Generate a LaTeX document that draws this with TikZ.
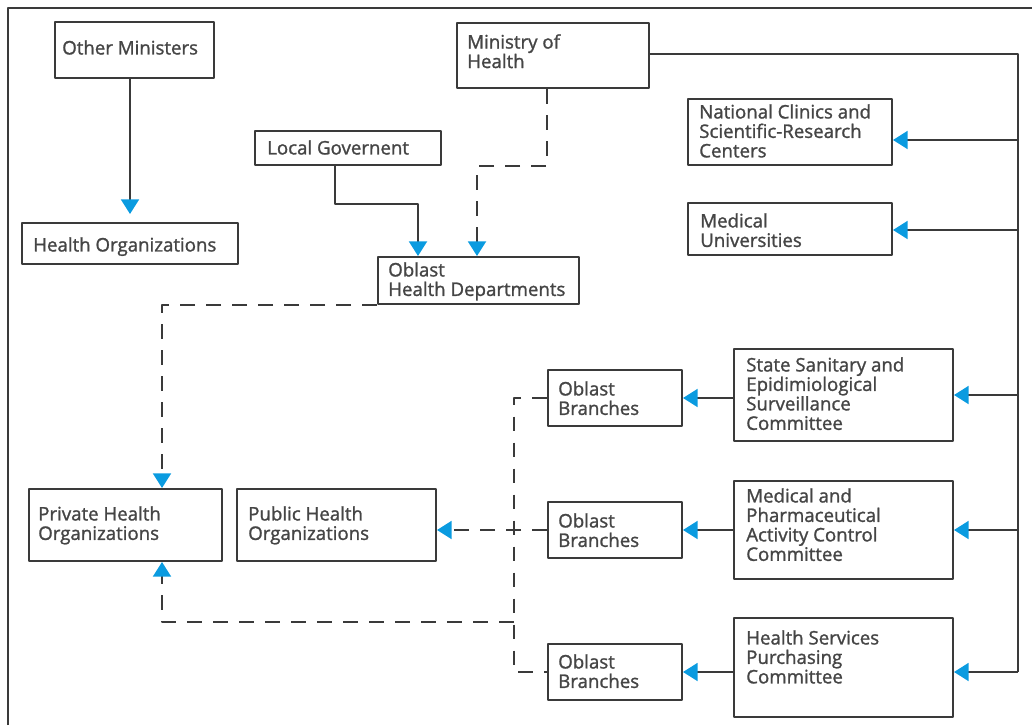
\documentclass[tikz,border=0pt]{standalone}
\usepackage{fontspec}
\setmainfont{Open Sans}[UprightFeatures={FakeBold=1.3}]
\usetikzlibrary{arrows.meta,calc,fit}
\definecolor{linegray}{HTML}{3A3A3A}
\definecolor{textgray}{HTML}{454545}
\definecolor{tipblue}{HTML}{0A9BE0}
\tikzset{
	orgbox/.style={draw=linegray, line width=1.5pt, inner sep=0pt},
	orgtext/.style={anchor=north west, align=left, inner sep=0pt, text=textgray, font=\fontsize{14}{14.6}\selectfont},
	link/.style={draw=linegray, line width=1.5pt},
	dlink/.style={link, dash pattern=on 11pt off 8.5pt},
	tip/.style={-{Triangle[length=11pt,width=13.5pt,color=tipblue]}}
}
% name, corner, corner, text baseline start, text
\newcommand\orgunit[5]{%
	\node[orgbox, fit={(#2) (#3)}] (#1) {};
	\node[orgtext] (#1-txt) at ($(#4)+(0,-14)$) {#5};}
\begin{document}
\begin{tikzpicture}[x=0.75pt,y=-0.75pt,line join=round]
	\useasboundingbox (0,0) rectangle (1032,725);
	\draw[link] (8,725) -- (8,8) -- (1032,8);
	\orgunit{om}{55,22}{214,78}{62,54}{Other Ministers}
	\orgunit{ho}{22,223}{238,264}{33,251}{Health Organizations}
	\orgunit{lg}{255,131}{441,165}{267,154}{Local Governent}
	\orgunit{moh}{457,23}{649,88}{467,48}{Ministry of\\Health}
	\orgunit{ohd}{378,257}{579,304}{388,276}{Oblast\\Health Departments}
	\orgunit{ncl}{688,99}{892,165}{699,118}{National Clinics and\\Scientific-Research\\Centers}
	\orgunit{mu}{688,203}{892,255}{700,227}{Medical\\Universities}
	\orgunit{ss}{734,349}{953,441}{746,371}{State Sanitary and\\Epidimiological\\Surveillance\\Committee}
	\orgunit{mp}{734,481}{953,579}{746,502}{Medical and\\Pharmaceutical\\Activity Control\\Committee}
	\orgunit{hs}{734,618}{953,717}{746,644}{Health Services\\Purchasing\\Committee}
	\orgunit{ob1}{548,370}{682,426}{558,395}{Oblast\\Branches}
	\orgunit{ob2}{548,502}{682,558}{558,527}{Oblast\\Branches}
	\orgunit{ob3}{548,644}{682,700}{558,668}{Oblast\\Branches}
	\orgunit{prv}{29,489}{222,561}{38,520}{Private Health\\Organizations}
	\orgunit{pub}{237,489}{436,561}{248,520}{Public Health\\Organizations}
	\coordinate (t0) at (1018,54);
	\coordinate (t1) at (1018,140);
	\coordinate (t2) at (1018,230);
	\coordinate (t3) at (1018,395);
	\coordinate (t4) at (1018,530);
	\coordinate (t5) at (1018,672);
	\coordinate (bus) at (513.5,622);
	\draw[link,tip,shorten >=6pt] (ho.north |- om.south) -- (ho.north);
	\draw[link,tip] ($(lg.south west)+(81,0)$) -- ++(0,38) -| ($(ohd.north west)+(41,0)$);
	\draw[dlink,tip] ($(moh.south west)+(91,0)$) -- ++(0,77) -| ($(ohd.north west)+(100,0)$);
	\draw[link] (t0 -| moh.east) -- (t0) -- (t5);
	\draw[link,tip] (t1) -- (t1 -| ncl.east);
	\draw[link,tip] (t2) -- (t2 -| mu.east);
	\draw[link,tip] (t3) -- (t3 -| ss.east);
	\draw[link,tip] (t4) -- (t4 -| mp.east);
	\draw[link,tip] (t5) -- (t5 -| hs.east);
	\draw[link,tip] (ss.west |- ob1.east) -- (ob1.east);
	\draw[link,tip] (mp.west |- ob2.east) -- (ob2.east);
	\draw[link,tip] (hs.west |- ob3.east) -- (ob3.east);
	\draw[dlink] (ob1.west) -| (bus |- ob3.west) -- (ob3.west);
	\draw[dlink,tip] (ob2.west) -- (ob2.west -| pub.east);
	\draw[dlink,tip] (bus) -| ($(prv.south west)+(134,0)$);
	\draw[dlink,tip] (ohd.south west) -| ($(prv.north west)+(134,0)$);
\end{tikzpicture}
\end{document}
